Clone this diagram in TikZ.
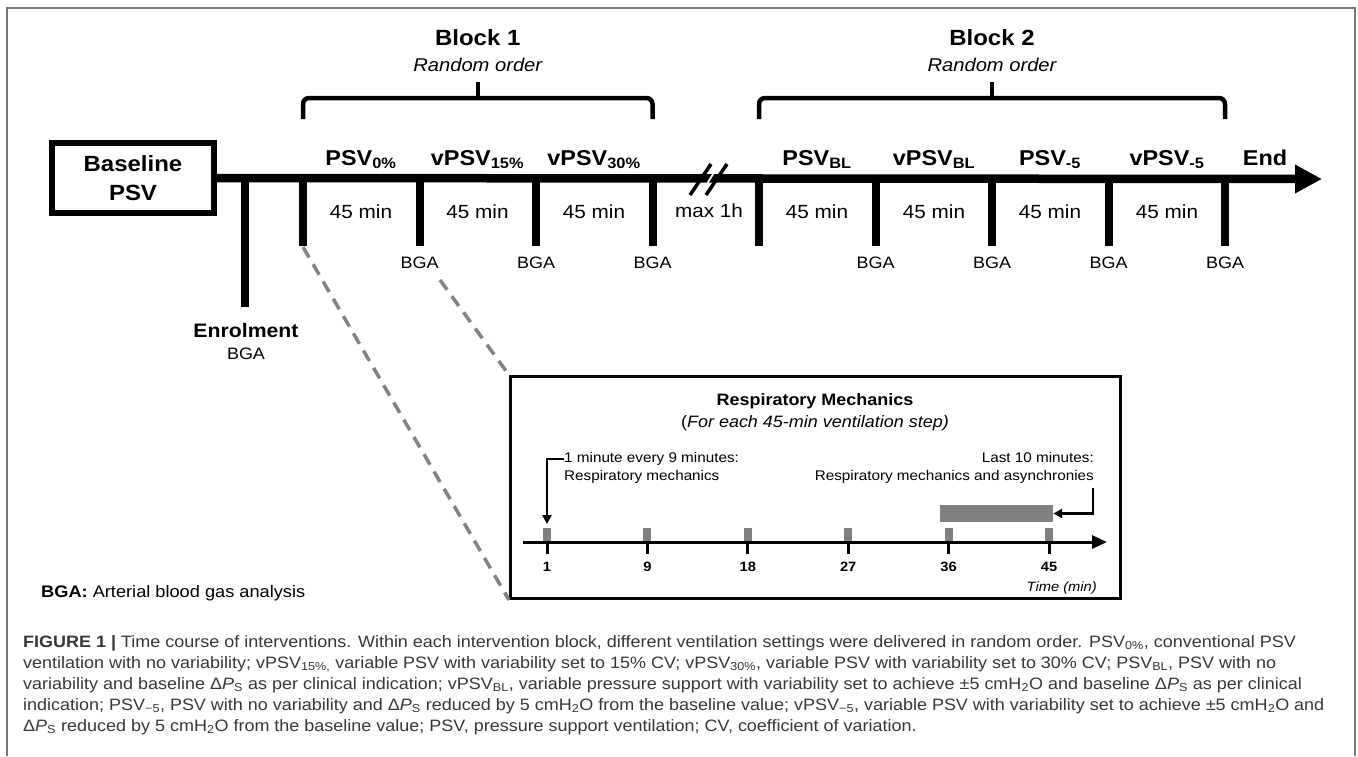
\documentclass[tikz,border=0pt]{standalone}
\usepackage{fontspec}
\setmainfont[FakeStretch=1.09]{Liberation Sans}
\usetikzlibrary{positioning, arrows.meta, calc}
\definecolor{frameGray}{RGB}{120,120,120}
\definecolor{markGray}{RGB}{128,128,128}
\definecolor{dashGray}{RGB}{130,130,130}
\definecolor{captionGray}{RGB}{55,55,55}
\newcommand{\fsz}[1]{\fontsize{#1}{#1}\selectfont}

\begin{document}
\begin{tikzpicture}[x=1pt, y=-1pt, inner sep=0pt,
					timeline/.style={line width=8.5pt},
					tickline/.style={line width=8pt},
					brace/.style={line width=4.5pt, rounded corners=6pt},
					period/.style={font=\bfseries\fsz{21.5}, anchor=base},
					mins/.style={font=\fsz{19}, anchor=base},
					bga/.style={font=\fsz{16.5}, anchor=base},
					blocktitle/.style={font=\bfseries\fsz{22}, anchor=base},
					blocknote/.style={font=\itshape\fsz{18.5}, anchor=base},
					zoomline/.style={dashGray, line width=3.5pt, dash pattern=on 12pt off 8pt},
					note/.style={font=\fsz{14}},
					notearrow/.style={line width=2.5pt, -{Triangle[length=9pt, width=9pt]}},
					marker/.style={fill=markGray, minimum width=8pt, minimum height=12.5pt},
					minlbl/.style={font=\bfseries\fsz{13.5}, anchor=base},
					caption/.style={font=\fsz{16.5}, text=captionGray, anchor=base west}]
	\useasboundingbox (0,0) rectangle (1358,756);
	\draw[frameGray, line width=1.5pt] (7,756) -- (7,8) -- (1355,8) -- (1355,756);

	% main time line
	\node[draw, line width=5.5pt, minimum width=162pt, minimum height=70pt, align=center, font=\bfseries\fontsize{22}{29}\selectfont] (base) at (133,178) {Baseline\\PSV};
	\coordinate (tend) at (1322,179);
	\draw[timeline, -{Triangle[length=27pt, width=27pt]}] (base.east) -- (tend);
	\fill[white] (699,195) -- (719,163) -- (721,163) -- (701,195) -- cycle;
	\draw[line width=3.5pt] (690,195) -- (711,164);
	\draw[line width=3.5pt] (706,195) -- (727,164);
	\node[mins] (maxh) at (709,217) {max 1h};

	\draw[tickline] (245,179) -- (245,307);
	\node[font=\bfseries\fsz{19.5}, anchor=base] (enrol) at (246,337) {Enrolment};
	\node[bga] (enrolbga) at (246,359) {BGA};

	\foreach \x [count=\i from 0] in {303,419.5,536,652.5}{
		\coordinate (a\i) at (\x,179);
		\draw[tickline] (a\i) -- ++(0,67);
	}
	\foreach \x [count=\i from 0] in {759,875.5,992,1108.5,1225}{
		\coordinate (b\i) at (\x,179);
		\draw[tickline] (b\i) -- ++(0,67);
	}
	\foreach \x [count=\k] in {419.5,536,652.5,875.5,992,1108.5,1225}
		\node[bga] (bga\k) at (\x,268) {BGA};

	\foreach \x/\t [count=\k] in {361/{PSV\textsubscript{0\%}}, 477.5/{vPSV\textsubscript{15\%}}, 594/{vPSV\textsubscript{30\%}},
			817/{PSV\textsubscript{BL}}, 934/{vPSV\textsubscript{BL}}, 1050/{PSV\textsubscript{-5}}, 1167/{vPSV\textsubscript{-5}}, 1265/End}{
		\node[period] (lab\k) at (\x,165) {\t};
	}
	\foreach \x [count=\k] in {361,477.5,594,817,934,1050,1167}
		\node[mins] (min\k) at (\x,218) {45 min};

	% blocks
	\draw[brace] (303,119) -- (303,98) -- (652.5,98) -- (652.5,119);
	\draw[line width=4pt] (477.75,98) -- (477.75,82);
	\node[blocktitle] (blk1) at (477.75,45) {Block 1};
	\node[blocknote] (rnd1) at (477.75,71) {Random order};
	\draw[brace] (759,119) -- (759,98) -- (1225,98) -- (1225,119);
	\draw[line width=4pt] (992,98) -- (992,82);
	\node[blocktitle] (blk2) at (992,45) {Block 2};
	\node[blocknote] (rnd2) at (992,71) {Random order};

	% zoom on one step
	\node[draw, line width=3pt, minimum width=610pt, minimum height=222pt] (inset) at (815.5,487.5) {};
	\coordinate (zoomstart) at (440,280);
	\draw[zoomline] ([yshift=-68pt]a0) -- (inset.south west);
	\draw[zoomline] (zoomstart) -- (inset.north west);
	\node[font=\bfseries\fsz{16.5}, anchor=base] (rmtitle) at (815,405) {Respiratory Mechanics};
	\node[font=\fsz{16.5}, anchor=base] (rmsub) at (815,427) {(\textit{For each 45-min ventilation step)}};

	\coordinate (ax0) at (523,542);
	\coordinate (ax1) at (1107,542);
	\draw[line width=3pt, -{Triangle[length=15pt, width=13pt]}] (ax0) -- (ax1);
	\foreach \m [count=\i from 0] in {1,9,18,27,36,45}{
		\pgfmathsetmacro{\xm}{547+100.4*\i}
		\node[marker] (sq\i) at (\xm,534.5) {};
		\draw[line width=3pt] (\xm,542) -- (\xm,554);
		\node[minlbl] (m\i) at (\xm,571) {\m};
	}
	\node[fill=markGray, minimum width=113pt, minimum height=17.5pt] (lastbar) at (996.5,513.5) {};
	\node[font=\itshape\fsz{13.5}, anchor=base east] (tlbl) at (1097,591) {Time (min)};

	\node[note, anchor=base west] (n1a) at (564,462.5) {1 minute every 9 minutes:};
	\node[note, anchor=base west] (n1b) at (564,480) {Respiratory mechanics};
	\node[note, anchor=base east] (n2a) at (1094,462.5) {Last 10 minutes:};
	\node[note, anchor=base east] (n2b) at (1094,480) {Respiratory mechanics and asynchronies};
	\draw[notearrow] (n1a.west) -| ([yshift=4pt]sq0.north);
	\draw[notearrow] ([xshift=-1pt, yshift=-5pt]n2b.south east) |- (lastbar.east);

	\node[font=\fsz{16.7}, anchor=base west] (legend) at (41,597) {\textbf{BGA:} Arterial blood gas analysis};

	% caption
	\node[caption] (cap1) at (23,647) {\textbf{FIGURE 1 |} Time course of interventions. Within each intervention block, different ventilation settings were delivered in random order. PSV\textsubscript{0\%}, conventional PSV};
	\node[caption] (cap2) at (23,668) {ventilation with no variability; vPSV\textsubscript{15\%,} variable PSV with variability set to 15\% CV; vPSV\textsubscript{30\%}, variable PSV with variability set to 30\% CV; PSV\textsubscript{BL}, PSV with no};
	\node[caption] (cap3) at (23,689) {variability and baseline Δ\textit{P}\textsubscript{S} as per clinical indication; vPSV\textsubscript{BL}, variable pressure support with variability set to achieve ±5 cmH\textsubscript{2}O and baseline Δ\textit{P}\textsubscript{S} as per clinical};
	\node[caption] (cap4) at (23,710) {indication; PSV\textsubscript{−5}, PSV with no variability and Δ\textit{P}\textsubscript{S} reduced by 5 cmH\textsubscript{2}O from the baseline value; vPSV\textsubscript{−5}, variable PSV with variability set to achieve ±5 cmH\textsubscript{2}O and};
	\node[caption] (cap5) at (23,731) {Δ\textit{P}\textsubscript{S} reduced by 5 cmH\textsubscript{2}O from the baseline value; PSV, pressure support ventilation; CV, coefficient of variation.};
\end{tikzpicture}
\end{document}
